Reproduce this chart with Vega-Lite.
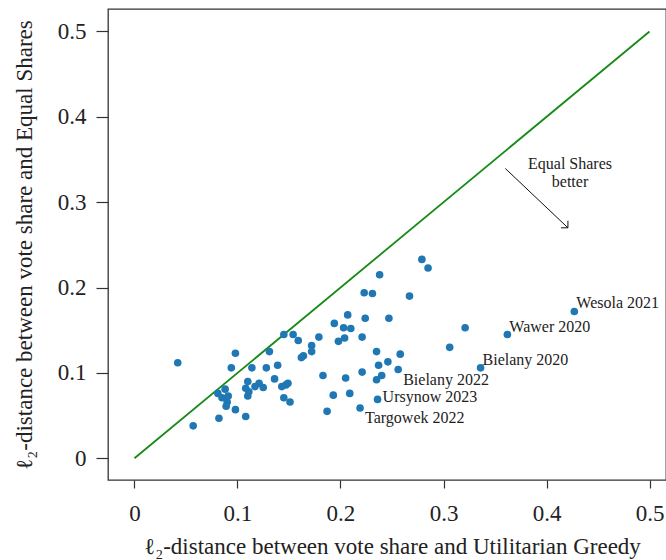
{
  "$schema": "https://vega.github.io/schema/vega-lite/v6.json",
  "autosize": "none",
  "padding": {"left": 108, "top": 9, "right": 0, "bottom": 80},
  "width": 558,
  "height": 471,
  "background": "white",
  "config": {
    "view": {"stroke": "#333333", "strokeWidth": 1.3},
    "axis": {
      "domain": false,
      "grid": false,
      "tickColor": "#333333",
      "tickWidth": 1.2,
      "labelFont": "Liberation Serif",
      "labelFontSize": 23,
      "labelColor": "#222222",
      "titleFont": "Liberation Serif",
      "titleFontSize": 23,
      "titleFontWeight": "normal",
      "titleColor": "#222222"
    }
  },
  "datasets": {
    "pts": [
      {"x": 0.042, "y": 0.112, "label": ""},
      {"x": 0.057, "y": 0.038, "label": ""},
      {"x": 0.082, "y": 0.047, "label": ""},
      {"x": 0.081, "y": 0.076, "label": ""},
      {"x": 0.085, "y": 0.071, "label": ""},
      {"x": 0.088, "y": 0.081, "label": ""},
      {"x": 0.091, "y": 0.073, "label": ""},
      {"x": 0.090, "y": 0.066, "label": ""},
      {"x": 0.089, "y": 0.061, "label": ""},
      {"x": 0.094, "y": 0.106, "label": ""},
      {"x": 0.098, "y": 0.123, "label": ""},
      {"x": 0.098, "y": 0.057, "label": ""},
      {"x": 0.108, "y": 0.049, "label": ""},
      {"x": 0.108, "y": 0.082, "label": ""},
      {"x": 0.110, "y": 0.090, "label": ""},
      {"x": 0.110, "y": 0.073, "label": ""},
      {"x": 0.111, "y": 0.078, "label": ""},
      {"x": 0.114, "y": 0.106, "label": ""},
      {"x": 0.117, "y": 0.084, "label": ""},
      {"x": 0.121, "y": 0.088, "label": ""},
      {"x": 0.125, "y": 0.083, "label": ""},
      {"x": 0.128, "y": 0.106, "label": ""},
      {"x": 0.131, "y": 0.125, "label": ""},
      {"x": 0.136, "y": 0.093, "label": ""},
      {"x": 0.139, "y": 0.109, "label": ""},
      {"x": 0.145, "y": 0.145, "label": ""},
      {"x": 0.154, "y": 0.145, "label": ""},
      {"x": 0.143, "y": 0.084, "label": ""},
      {"x": 0.147, "y": 0.086, "label": ""},
      {"x": 0.149, "y": 0.088, "label": ""},
      {"x": 0.145, "y": 0.071, "label": ""},
      {"x": 0.151, "y": 0.066, "label": ""},
      {"x": 0.159, "y": 0.138, "label": ""},
      {"x": 0.162, "y": 0.118, "label": ""},
      {"x": 0.164, "y": 0.120, "label": ""},
      {"x": 0.172, "y": 0.132, "label": ""},
      {"x": 0.172, "y": 0.125, "label": ""},
      {"x": 0.179, "y": 0.142, "label": ""},
      {"x": 0.183, "y": 0.097, "label": ""},
      {"x": 0.187, "y": 0.055, "label": ""},
      {"x": 0.193, "y": 0.074, "label": ""},
      {"x": 0.194, "y": 0.158, "label": ""},
      {"x": 0.198, "y": 0.137, "label": ""},
      {"x": 0.203, "y": 0.153, "label": ""},
      {"x": 0.204, "y": 0.141, "label": ""},
      {"x": 0.205, "y": 0.094, "label": ""},
      {"x": 0.207, "y": 0.168, "label": ""},
      {"x": 0.210, "y": 0.152, "label": ""},
      {"x": 0.209, "y": 0.076, "label": ""},
      {"x": 0.219, "y": 0.059, "label": "Targowek 2022"},
      {"x": 0.221, "y": 0.142, "label": ""},
      {"x": 0.221, "y": 0.101, "label": ""},
      {"x": 0.223, "y": 0.194, "label": ""},
      {"x": 0.224, "y": 0.164, "label": ""},
      {"x": 0.231, "y": 0.193, "label": ""},
      {"x": 0.235, "y": 0.125, "label": ""},
      {"x": 0.235, "y": 0.092, "label": ""},
      {"x": 0.236, "y": 0.069, "label": "Ursynow 2023"},
      {"x": 0.237, "y": 0.109, "label": ""},
      {"x": 0.238, "y": 0.215, "label": ""},
      {"x": 0.240, "y": 0.097, "label": ""},
      {"x": 0.246, "y": 0.113, "label": ""},
      {"x": 0.247, "y": 0.164, "label": ""},
      {"x": 0.256, "y": 0.104, "label": "Bielany 2022"},
      {"x": 0.258, "y": 0.122, "label": ""},
      {"x": 0.267, "y": 0.190, "label": ""},
      {"x": 0.279, "y": 0.233, "label": ""},
      {"x": 0.285, "y": 0.223, "label": ""},
      {"x": 0.306, "y": 0.130, "label": ""},
      {"x": 0.321, "y": 0.153, "label": ""},
      {"x": 0.336, "y": 0.106, "label": "Bielany 2020"},
      {"x": 0.362, "y": 0.145, "label": "Wawer 2020"},
      {"x": 0.427, "y": 0.172, "label": "Wesola 2021"}
    ],
    "diag": [
      {"x": 0, "y": 0},
      {"x": 0.5, "y": 0.5}
    ],
    "arrow": [
      {"x": 0.360, "y": 0.3395, "x2": 0.4208, "y2": 0.270},
      {"x": 0.4140, "y": 0.270, "x2": 0.4208, "y2": 0.270},
      {"x": 0.4208, "y": 0.2782, "x2": 0.4208, "y2": 0.270}
    ],
    "note": [
      {"x": 0.4228, "y": 0.3391, "t": "Equal Shares"},
      {"x": 0.4228, "y": 0.3183, "t": "better"}
    ]
  },
  "encoding": {
    "x": {
      "field": "x",
      "type": "quantitative",
      "scale": {"domain": [-0.0257, 0.516], "nice": false, "zero": false},
      "axis": {
        "values": [0, 0.1, 0.2, 0.3, 0.4, 0.5],
        "labelExpr": "datum.value == 0 ? '0' : format(datum.value, '.1f')",
        "tickSize": 8,
        "labelPadding": 14,
        "title": "ℓ₂-distance between vote share and Utilitarian Greedy",
        "titleX": 284,
        "titleY": 73,
        "titleBaseline": "alphabetic",
        "titleAlign": "center"
      }
    },
    "y": {
      "field": "y",
      "type": "quantitative",
      "scale": {"domain": [-0.0254, 0.5263], "nice": false, "zero": false},
      "axis": {
        "values": [0, 0.1, 0.2, 0.3, 0.4, 0.5],
        "labelExpr": "datum.value == 0 ? '0' : format(datum.value, '.1f')",
        "tickSize": 12,
        "labelPadding": 10,
        "title": "ℓ₂-distance between vote share and Equal Shares",
        "titleX": -77,
        "titleY": 235.5,
        "titleAngle": -90,
        "titleBaseline": "alphabetic",
        "titleAlign": "center"
      }
    }
  },
  "layer": [
    {
      "data": {"name": "diag"},
      "mark": {"type": "line", "color": "#168a16", "strokeWidth": 1.8},
      "encoding": {}
    },
    {
      "data": {"name": "pts"},
      "mark": {"type": "circle", "size": 58, "color": "#1f77b4", "opacity": 1}
    },
    {
      "data": {"name": "pts"},
      "transform": [{"filter": "indexof(['Wesola 2021','Wawer 2020','Bielany 2020'], datum.label) >= 0"}],
      "mark": {"type": "text", "align": "left", "baseline": "alphabetic", "dx": 2, "dy": -3, "font": "Liberation Serif", "fontSize": 16, "color": "#222222"},
      "encoding": {"text": {"field": "label"}}
    },
    {
      "data": {"name": "pts"},
      "transform": [{"filter": "datum.label == 'Ursynow 2023'"}],
      "mark": {"type": "text", "align": "left", "baseline": "alphabetic", "dx": 5, "dy": 3, "font": "Liberation Serif", "fontSize": 16, "color": "#222222"},
      "encoding": {"text": {"field": "label"}}
    },
    {
      "data": {"name": "pts"},
      "transform": [{"filter": "indexof(['Bielany 2022','Targowek 2022'], datum.label) >= 0"}],
      "mark": {"type": "text", "align": "left", "baseline": "alphabetic", "dx": 5, "dy": 15, "font": "Liberation Serif", "fontSize": 16, "color": "#222222"},
      "encoding": {"text": {"field": "label"}}
    },
    {
      "data": {"name": "arrow"},
      "mark": {"type": "rule", "color": "#111111", "strokeWidth": 1},
      "encoding": {"x2": {"field": "x2"}, "y2": {"field": "y2"}}
    },
    {
      "data": {"name": "note"},
      "mark": {"type": "text", "align": "center", "baseline": "alphabetic", "font": "Liberation Serif", "fontSize": 16, "color": "#222222"},
      "encoding": {"text": {"field": "t"}}
    }
  ]
}
